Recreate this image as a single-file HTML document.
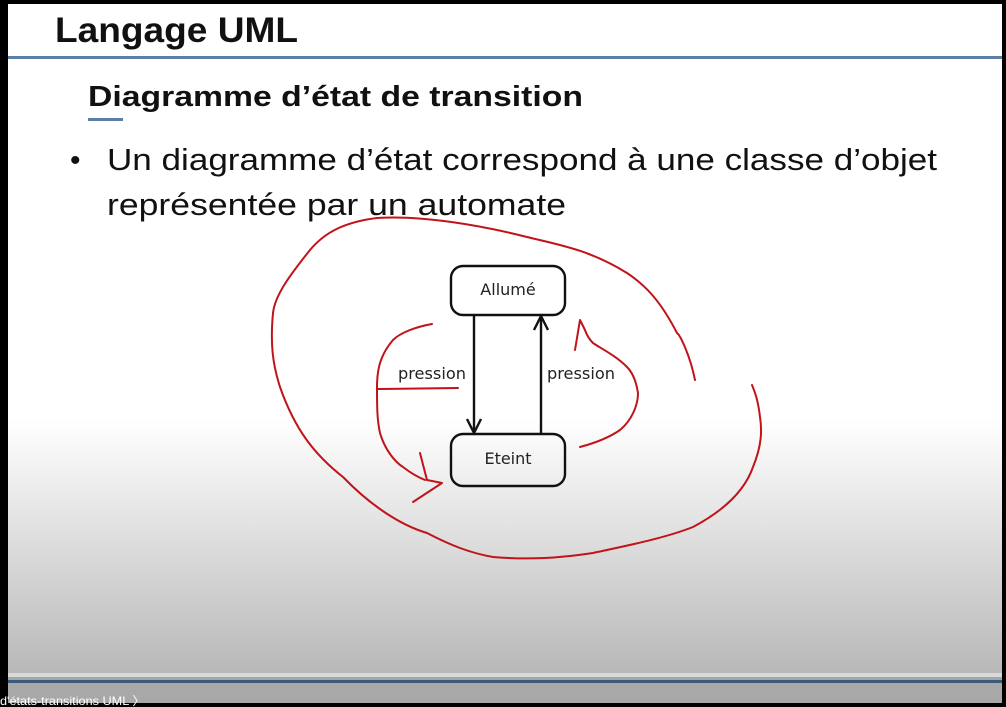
<!DOCTYPE html>
<html><head><meta charset="utf-8"><style>
html,body{margin:0;padding:0;width:1006px;height:707px;overflow:hidden;background:#000}
svg{display:block}
</style></head><body>
<svg width="1006" height="707" viewBox="0 0 1006 707" xmlns="http://www.w3.org/2000/svg">
<defs>
<linearGradient id="bg" x1="0" y1="0" x2="0" y2="1">
<stop offset="0" stop-color="#ffffff"/>
<stop offset="0.62" stop-color="#ffffff"/>
<stop offset="0.78" stop-color="#e2e2e2"/>
<stop offset="1" stop-color="#b8b8b8"/>
</linearGradient>
</defs>
<rect x="8" y="4" width="994" height="669" fill="url(#bg)"/>
<rect x="8" y="673" width="994" height="4" fill="#d8d8d8"/>
<rect x="8" y="677" width="994" height="3" fill="#9aa"/>
<rect x="8" y="680" width="994" height="3" fill="#3f5a78"/>
<rect x="8" y="683" width="994" height="20" fill="#a8a8a8"/>
<text x="0" y="705" font-family="Liberation Sans, sans-serif" font-size="12" fill="#fff" textLength="145" lengthAdjust="spacingAndGlyphs">d'états-transitions UML  〉</text>
<text x="55" y="42" font-family="Liberation Sans, sans-serif" font-weight="bold" font-size="35" fill="#111" textLength="243" lengthAdjust="spacingAndGlyphs">Langage UML</text>
<rect x="8" y="56" width="994" height="3" fill="#5d7fa6"/>
<text x="88" y="106" font-family="Liberation Sans, sans-serif" font-weight="bold" font-size="29" fill="#111" textLength="495" lengthAdjust="spacingAndGlyphs">Diagramme d’état de transition</text>
<rect x="88" y="118" width="35" height="3" fill="#5d7fa6"/>
<text x="70" y="170" font-family="Liberation Sans, sans-serif" font-size="30" fill="#111">•</text>
<text x="107" y="170" font-family="Liberation Sans, sans-serif" font-size="31" fill="#111" textLength="830" lengthAdjust="spacingAndGlyphs">Un diagramme d’état correspond à une classe d’objet</text>
<text x="107" y="215" font-family="Liberation Sans, sans-serif" font-size="31" fill="#111" textLength="459" lengthAdjust="spacingAndGlyphs">représentée par un automate</text>
<g fill="none" stroke="#111" stroke-width="2.4">
<rect x="451" y="266" width="114" height="49" rx="12"/>
<rect x="451" y="434" width="114" height="52" rx="12"/>
<line x1="474" y1="315" x2="474" y2="433"/>
<polyline points="467,419 474,433 481,419"/>
<line x1="541" y1="434" x2="541" y2="316"/>
<polyline points="534,330 541,316 548,330"/>
</g>
<g font-family="DejaVu Sans, sans-serif" font-size="16" fill="#222">
<text x="508" y="295" text-anchor="middle">Allumé</text>
<text x="508" y="464" text-anchor="middle">Eteint</text>
<text x="398" y="379" textLength="68" lengthAdjust="spacingAndGlyphs">pression</text>
<text x="547" y="379" textLength="68" lengthAdjust="spacingAndGlyphs">pression</text>
</g>
<g fill="none" stroke="#c0141a" stroke-width="2" stroke-linecap="round" stroke-linejoin="round">
<path d="M695,380 C690,355 680,335 677,333 C660,300 645,285 627,273 C590,250 560,245 527,237 C480,225 420,215 377,218 C345,222 325,232 310,250 C290,275 275,295 273,313 C270,345 273,365 280,387 C295,430 315,455 343,477 C370,505 400,525 427,533 C450,545 470,553 493,557 C530,560 560,558 593,553 C630,545 665,538 693,527 C725,510 745,490 753,467 C762,445 762,430 760,417 C758,400 755,392 752,385"/>
<path d="M432,324 C415,327 400,333 393,340 C380,355 377,370 377,387 C377,405 377,420 380,433 C385,450 395,462 403,467 C412,474 420,478 425,480"/>
<path d="M420,453 L427,480 L442,483 L413,502"/>
<path d="M377,389 L458,388"/>
<path d="M580,447 C595,443 610,437 620,430 C632,420 638,405 638,393 C636,380 632,372 627,367 C615,355 600,348 593,343 C588,338 586,333 585,330 L580,320 L575,350"/>
</g>
</svg>
</body></html>
